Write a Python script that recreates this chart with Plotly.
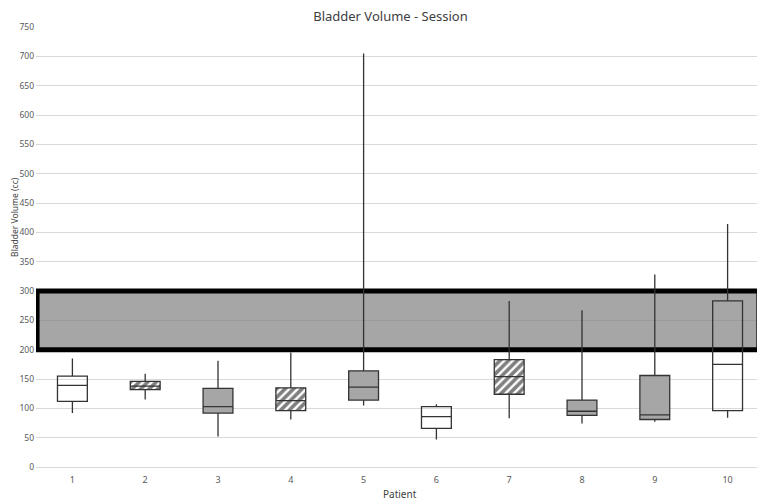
import plotly.graph_objects as go

patients = [1, 2, 3, 4, 5, 6, 7, 8, 9, 10]
lower = [92, 115, 52, 81, 105, 47, 83, 74, 77, 84]
q1 = [112, 132, 92, 96, 114, 66, 124, 88, 81, 96]
median = [139, 138, 103, 113, 136, 86, 154, 95, 89, 175]
q3 = [155, 146, 134, 135, 164, 103, 183, 114, 156, 283]
upper = [185, 159, 181, 195, 705, 107, 283, 267, 328, 414]
styles = ["white", "hatch", "gray", "hatch", "gray", "white", "hatch", "gray", "gray", "white"]
band_low, band_high = 200, 300
y_ticks = list(range(0, 751, 50))

fill_for = {"white": "rgba(0,0,0,0)", "hatch": "rgba(0,0,0,0)", "gray": "#a6a6a6"}
BW = 0.41

fig = go.Figure()

# hatched fill under hatched boxes
hx = [p for p, s in zip(patients, styles) if s == "hatch"]
hb = [a for a, s in zip(q1, styles) if s == "hatch"]
hh = [b - a for a, b, s in zip(q1, q3, styles) if s == "hatch"]
fig.add_trace(go.Bar(
    x=hx, y=hh, base=hb, width=BW,
    marker=dict(color="white", line=dict(width=0),
                pattern=dict(shape="/", fgcolor="black", bgcolor="white", size=6, solidity=0.6)),
    showlegend=False, hoverinfo="skip"))

for st in ["white", "hatch", "gray"]:
    idx = [i for i, s in enumerate(styles) if s == st]
    fig.add_trace(go.Box(
        x=[patients[i] for i in idx],
        q1=[q1[i] for i in idx],
        median=[median[i] for i in idx],
        q3=[q3[i] for i in idx],
        lowerfence=[lower[i] for i in idx],
        upperfence=[upper[i] for i in idx],
        width=BW,
        fillcolor=fill_for[st],
        line=dict(color="#333333", width=1.3),
        whiskerwidth=0,
        showlegend=False,
    ))

fig.add_shape(type="rect", xref="x", yref="y", x0=0.515, x1=10.43,
              y0=band_low, y1=band_high, fillcolor="rgba(128,128,128,0.7)",
              line=dict(color="black", width=5), layer="between")

fig.add_annotation(text="Bladder Volume (cc)", xref="paper", yref="paper",
                   x=-0.0305, y=0.568, xanchor="center", yanchor="middle", textangle=-90,
                   borderpad=0,
                   showarrow=False, font=dict(family="Noto Sans", size=8.5, color="#404040"))
fig.add_annotation(text="Patient", xref="paper", yref="paper",
                   x=0.5, y=-0.061, xanchor="center", yanchor="middle",
                   showarrow=False, font=dict(family="Noto Sans", size=10, color="#404040"))

fig.update_layout(
    width=765, height=500,
    margin=dict(l=28, r=9, t=19, b=41),
    paper_bgcolor="white", plot_bgcolor="white",
    boxmode="overlay", barmode="overlay",
    title=dict(text="Bladder Volume - Session", x=0.5, xanchor="center", y=0.993, yanchor="top",
               font=dict(family="Noto Sans", size=13, color="#404040")),
    font=dict(family="Noto Sans", size=9, color="#595959"),
    xaxis=dict(range=[0.5, 10.5], tickvals=patients, ticktext=[str(p) for p in patients],
               showgrid=False, zeroline=False, showline=False, ticks="",
               ticklabelstandoff=6, automargin=False),
    yaxis=dict(range=[0, 750], tickvals=y_ticks, showgrid=True, gridcolor="#d9d9d9", gridwidth=1,
               zeroline=True, zerolinecolor="#d9d9d9", zerolinewidth=1, showline=False, ticks="",
               ticklabelstandoff=1, tickfont=dict(size=8.5), automargin=False),
)

fig.write_html("out.html")
